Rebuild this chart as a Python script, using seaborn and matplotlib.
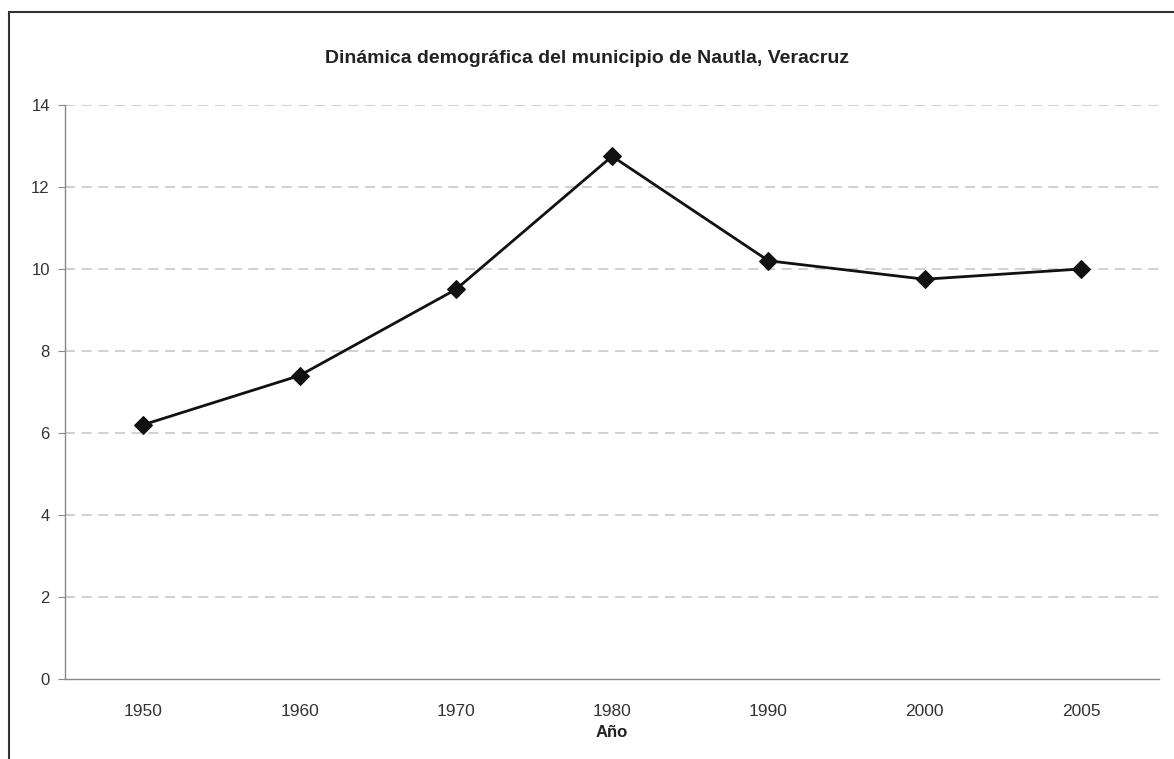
import pandas as pd
import numpy as np
import matplotlib.pyplot as plt
import seaborn as sns
from matplotlib.patches import Rectangle

years = ['1950', '1960', '1970', '1980', '1990', '2000', '2005']
values = [6.2, 7.4, 9.5, 12.75, 10.2, 9.75, 10.0]
y_ticks = [0, 2, 4, 6, 8, 10, 12, 14]

sns.set_style('white')
plt.rcParams['font.family'] = ['Liberation Sans', 'DejaVu Sans']

df = pd.DataFrame({'year': years, 'value': values})

fig = plt.figure(figsize=(11.74, 7.59), dpi=100)
ax = fig.add_axes([0.0554, 0.1054, 0.932, 0.7563])

# grid lines (dashed, light gray)
for t in y_ticks[1:]:
    ax.axhline(t, color='#c8c8c8', lw=1.2, ls=(0, (6, 4)), zorder=0)

sns.lineplot(data=df, x='year', y='value', sort=False, color='#111111',
             lw=2, marker='D', markersize=9, markeredgecolor='#111111', ax=ax)

ax.set_xlim(-0.5, len(years) - 0.5)
ax.set_ylim(0, 14)
ax.set_yticks(y_ticks)
ax.set_xticks(range(len(years)))
ax.set_xticklabels(years)
# tick marks between categories, like the original
ax.set_xticks(np.arange(-0.5, len(years)), minor=True)
ax.tick_params(axis='x', which='major', length=0, pad=18, labelsize=12.5, colors='#333333')
ax.tick_params(axis='x', which='minor', length=5, color='#888888', direction='out')
ax.tick_params(axis='y', length=5, color='#888888', labelsize=12, colors='#333333',
               left=True, direction='out', pad=6)

for s in ['top', 'right']:
    ax.spines[s].set_visible(False)
for s in ['left', 'bottom']:
    ax.spines[s].set_color('#888888')
    ax.spines[s].set_linewidth(1)

ax.set_xlabel('Año', fontsize=12, fontweight='bold', color='#222222', labelpad=4)
ax.set_ylabel('')
fig.text(0.5, 0.923, 'Dinámica demográfica del municipio de Nautla, Veracruz',
         ha='center', va='center', fontsize=14, fontweight='bold', color='#222222')

# outer frame
fig.patches.append(Rectangle((0.008, -0.01), 1.1, 0.994, transform=fig.transFigure,
                             fill=False, edgecolor='#333333', lw=1.5))

fig.savefig('out.png', dpi=100)
